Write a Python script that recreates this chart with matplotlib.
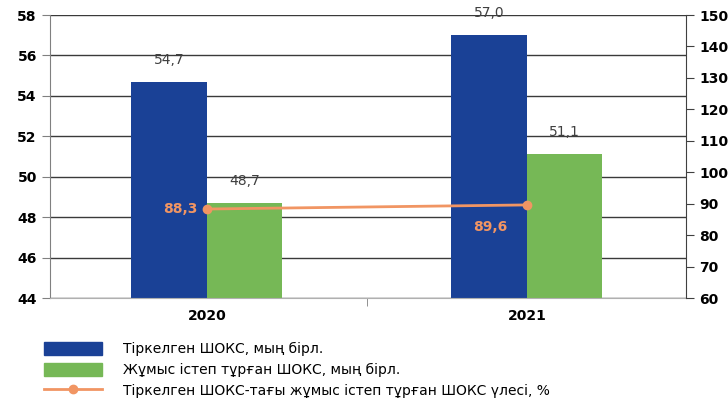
import matplotlib.pyplot as plt
import numpy as np
from matplotlib.lines import Line2D
from matplotlib.patches import Patch

years = ["2020", "2021"]
registered = [54.7, 57.0]
operating = [48.7, 51.1]
share = [88.3, 89.6]

legend_labels = [
    "Тіркелген ШОКС, мың бірл.",
    "Жұмыс істеп тұрған ШОКС, мың бірл.",
    "Тіркелген ШОКС-тағы жұмыс істеп тұрған ШОКС үлесі, %",
]

BLUE = "#1a4196"
GREEN = "#76b856"
ORANGE = "#f19563"
GRID = "#3a3a3a"

plt.rcParams["font.family"] = ["DejaVu Sans"]


def fmt(v):
    return f"{v:.1f}".replace(".", ",")


fig = plt.figure(figsize=(7.28, 4.0), dpi=100)
ax = fig.add_axes([0.0687, 0.255, 0.8736, 0.7075])

x = np.arange(len(years))
w = 0.236
ax.bar(x - w / 2, registered, w, color=BLUE, zorder=2)
ax.bar(x + w / 2, operating, w, color=GREEN, zorder=2)

for xi, v in zip(x - w / 2, registered):
    ax.text(xi, v + 0.75, fmt(v), ha="center", va="bottom", fontsize=10, color="#404040")
for xi, v in zip(x + w / 2, operating):
    ax.text(xi, v + 0.75, fmt(v), ha="center", va="bottom", fontsize=10, color="#404040")

ax.set_ylim(44, 58)
ax.set_yticks(np.arange(44, 59, 2))
ax.set_xlim(-0.49, 1.497)
ax.set_xticks(x)
ax.set_xticklabels(years, fontsize=10, fontweight="bold")
ax.set_xticks([0.5], minor=True)
ax.tick_params(axis="x", which="major", length=0, pad=8)
ax.tick_params(axis="x", which="minor", length=6, color="#808080")
ax.tick_params(axis="y", labelsize=10, length=6, color="#808080")
for lab in ax.get_yticklabels():
    lab.set_fontweight("bold")
ax.grid(axis="y", color=GRID, linewidth=1.0, zorder=0)
for s in ["top", "right"]:
    ax.spines[s].set_visible(False)
ax.spines["left"].set_color("#808080")
ax.spines["bottom"].set_color("#b0b0b0")

ax2 = ax.twinx()
ax2.plot(x, share, color=ORANGE, linewidth=2, marker="o", markersize=6, zorder=3)
ax2.set_ylim(60, 150)
ax2.set_yticks(np.arange(60, 151, 10))
ax2.tick_params(axis="y", labelsize=10, length=6, color="#404040")
for lab in ax2.get_yticklabels():
    lab.set_fontweight("bold")
for s in ["top", "left", "bottom"]:
    ax2.spines[s].set_visible(False)
ax2.spines["right"].set_color("#404040")

ax2.text(x[0] - 0.03, share[0], fmt(share[0]), ha="right", va="center",
         fontsize=10, fontweight="bold", color=ORANGE)
ax2.text(x[1] - 0.06, share[1] - 7, fmt(share[1]), ha="right", va="center",
         fontsize=10, fontweight="bold", color=ORANGE)

handles = [
    Patch(color=BLUE),
    Patch(color=GREEN),
    Line2D([], [], color=ORANGE, linewidth=2, marker="o", markersize=6),
]
fig.legend(handles, legend_labels, loc="upper left", bbox_to_anchor=(0.06, 0.145),
           frameon=False, fontsize=10, handlelength=4.2, handleheight=1.1,
           handletextpad=1.5, labelspacing=0.45, borderaxespad=0, borderpad=0)

fig.savefig("out.png", dpi=100)
